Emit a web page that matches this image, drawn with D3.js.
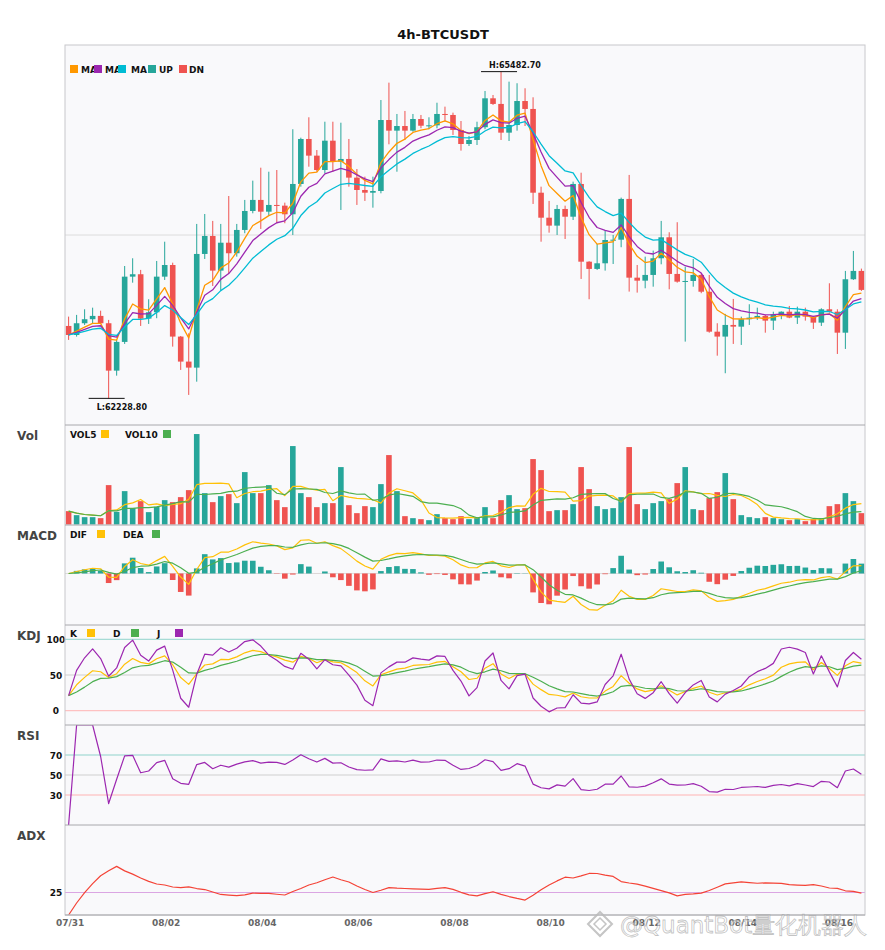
<!DOCTYPE html>
<meta charset="utf-8">
<script src="https://d3js.org/d3.v7.min.js"></script>
<style>
body { margin: 0; background: #fff; }
text { font-family: "DejaVu Sans", sans-serif; }
</style>
<body></body>
<script>
// 4h candles, 07/31 00:00 onwards
var opens = [62950,62860,62977,63017,63050,62977,62505,62791,63441,63465,63023,63086,63441,63557,62844,62595,62535,63667,63846,63501,
  63779,63674,63906,64095,64205,64088,64155,64148,64062,64364,64812,64646,64503,64795,64586,64613,64427,64304,64277,64294,
  65001,64895,64941,64895,65011,64944,64948,65061,65051,64902,64762,64802,64929,65217,65161,64875,64951,65190,65111,64277,
  64028,63949,64115,64038,64364,63590,63518,63574,63806,63809,64215,63431,63401,63458,63624,63833,63468,63391,63398,63458,
  63291,62893,62844,62960,62943,63017,63033,63050,63003,63067,63092,63033,63092,63043,62983,63116,63092,62883,63415,63498];
var highs = [63043,63060,63116,63132,63102,63010,62811,63547,63624,63508,63216,63597,63789,63580,62850,62877,63966,64065,63996,63966,
  64244,63966,64205,64397,64526,64486,64503,64178,64909,64825,65028,64702,64984,64984,64974,64812,64513,64437,64437,65200,
  65373,65061,65091,65061,65051,65028,65173,65134,65074,64991,64842,64984,65290,65250,65482.7,65383,65367,65317,65227,64337,
  64195,64155,64148,64387,64476,63595,63766,63899,63856,64228,64454,63557,63640,63700,63996,63883,63983,63540,63617,63475,
  63458,62977,63070,63219,63043,63166,63132,63060,63092,63095,63149,63142,63132,63050,63126,63375,63116,63498,63697,63521];
var lows = [62811,62844,62960,62970,62972,62228.8,62455,62771,63381,62950,62970,63027,63408,62744,62512,62263,62395,63617,63348,63302,
  63475,63640,63873,64072,63916,64048,63973,63973,63856,64337,64536,64486,64470,64486,64105,64337,64155,64195,64128,64271,
  64759,64486,64802,64885,64919,64909,64919,64984,64852,64696,64742,64752,64909,65151,64802,64792,64895,64941,64165,63789,
  63879,63856,63816,64005,63418,63216,63508,63501,63567,63734,63292,63282,63325,63341,63564,63315,63381,62794,63341,63276,
  62883,62654,62479,62771,62761,62960,63010,62883,62910,63017,63027,62970,63003,62920,62950,63082,62671,62721,63408,63299];
var closes = [62860,62977,63017,63050,62977,62505,62791,63441,63465,63023,63086,63441,63557,62844,62595,62535,63667,63846,63501,63779,
  63674,63906,64095,64205,64088,64155,64148,64062,64364,64812,64646,64503,64795,64586,64613,64427,64304,64277,64294,65001,
  64895,64941,64895,65011,64944,64948,65061,65051,64902,64762,64802,64929,65217,65161,64875,64951,65190,65111,64277,64028,
  63949,64115,64038,64364,63590,63518,63574,63806,63809,64215,63431,63401,63458,63624,63833,63468,63391,63398,63458,63291,
  62893,62844,62960,62943,63017,63033,63050,63003,63067,63092,63033,63092,63043,62983,63116,63092,62883,63415,63498,63309];
var volumes = [400,280,220,220,190,1180,380,1000,490,700,370,530,730,670,820,1030,2710,940,670,850,
  910,640,1570,940,940,1180,730,520,2350,940,820,520,640,640,1720,580,340,550,520,1210,
  2080,1000,250,190,160,130,310,190,160,250,160,220,520,190,730,880,460,490,1960,1630,
  400,430,430,610,1720,1060,550,460,490,820,2320,610,460,640,700,760,1240,1720,460,430,
  790,970,1540,760,280,220,190,220,190,160,130,160,100,160,190,550,610,940,700,340];
var tickLabels = ["07/31","08/02","08/04","08/06","08/08","08/10","08/12","08/14","08/16"];
var maPeriods = [5, 8, 13];
var macdParams = [6, 13, 5];

var UP = "#26a69a", DN = "#ef5350";
var left = 65, right = 865;
var n = closes.length;

// ---------- indicators ----------
function ema(arr, p) {
  var a = 2 / (p + 1), prev, out = [];
  arr.forEach(function(v, i) { prev = (i == 0) ? v : prev + a * (v - prev); out.push(prev); });
  return out;
}
function sma(arr, p) {
  return arr.map(function(v, i) {
    return d3.mean(arr.slice(Math.max(0, i - p + 1), i + 1));
  });
}
var mas = maPeriods.map(function(p) { return ema(closes, p); });
var vol5 = sma(volumes, 5), vol10 = sma(volumes, 10);

var eFast = ema(closes, macdParams[0]), eSlow = ema(closes, macdParams[1]);
var dif = eFast.map(function(v, i) { return v - eSlow[i]; });
var dea = ema(dif, macdParams[2]);
var hist = dif.map(function(v, i) { return 2 * (v - dea[i]); });

var kArr = [], dArr = [], jArr = [];
var k, dd;
for (var i = 0; i < n; i++) {
  var lo = d3.min(lows.slice(Math.max(0, i - 8), i + 1));
  var hi = d3.max(highs.slice(Math.max(0, i - 8), i + 1));
  var rsv = hi == lo ? 50 : (closes[i] - lo) / (hi - lo) * 100;
  if (i == 0) { k = rsv; dd = rsv; }
  else { k = 2 / 3 * k + rsv / 3; dd = 2 / 3 * dd + k / 3; }
  kArr.push(k); dArr.push(dd); jArr.push(3 * k - 2 * dd);
}

var rsi = [], g = 0, l = 0;
for (var i = 0; i < n; i++) {
  if (i > 0) {
    var ch = closes[i] - closes[i - 1];
    g = g + (Math.max(ch, 0) - g) / 14;
    l = l + (Math.max(-ch, 0) - l) / 14;
  }
  rsi.push(g + l == 0 ? 0 : 100 * g / (g + l));
}

var adx = [], pS = 0, mS = 0, ax = 0, al = 2 / 15;
for (var i = 0; i < n; i++) {
  var pdm = 0, mdm = 0;
  if (i > 0) {
    var upM = highs[i] - highs[i - 1], dnM = lows[i - 1] - lows[i];
    pdm = (upM > dnM && upM > 0) ? upM : 0;
    mdm = (dnM > upM && dnM > 0) ? dnM : 0;
  }
  pS = pS + al * (pdm - pS);
  mS = mS + al * (mdm - mS);
  var dx = (pS + mS) == 0 ? 0 : 100 * Math.abs(pS - mS) / (pS + mS);
  ax = i == 0 ? dx : ax + al * (dx - ax);
  adx.push(ax);
}

// ---------- svg ----------
var svg = d3.select("body").append("svg")
    .attr("width", 885)
    .attr("height", 950);

var x = d3.scaleBand().domain(d3.range(n)).range([left, right]).paddingInner(0.3).paddingOuter(0.1);
var cx = function(i) { return x(i) + x.bandwidth() / 2; };

svg.append("rect").attr("x", left).attr("y", 45).attr("width", right - left).attr("height", 870)
    .attr("fill", "#f9f9fb");

svg.append("text").text("4h-BTCUSDT")
    .attr("x", 443).attr("y", 39)
    .attr("text-anchor", "middle")
    .attr("font-weight", "bold").attr("font-size", "13px").attr("fill", "#111");

var panels = [
  {name: "price", top: 45, bottom: 425},
  {name: "Vol", top: 425, bottom: 525},
  {name: "MACD", top: 525, bottom: 625},
  {name: "KDJ", top: 625, bottom: 725},
  {name: "RSI", top: 725, bottom: 825},
  {name: "ADX", top: 825, bottom: 915}
];
var defs = svg.append("defs");
panels.forEach(function(p) {
  defs.append("clipPath").attr("id", "clip-" + p.name)
    .append("rect").attr("x", left).attr("y", p.top).attr("width", right - left).attr("height", p.bottom - p.top);
  if (p.name != "price") {
    svg.append("text").text(p.name)
      .attr("x", 17).attr("y", p.top + 15)
      .attr("font-weight", "bold").attr("font-size", "12px").attr("fill", "#444");
  }
});

function hline(yv, color) {
  svg.append("line").attr("x1", left).attr("x2", right).attr("y1", yv).attr("y2", yv)
    .attr("stroke", color).attr("stroke-width", 1);
}
function tickText(t, yv) {
  svg.append("text").text(t).attr("x", 56).attr("y", yv + 3.5)
    .attr("text-anchor", "middle").attr("font-weight", "bold").attr("font-size", "9px").attr("fill", "#111");
}
function legend(items, yTop) {
  items.forEach(function(it) {
    if (it.sq !== undefined) {
      svg.append("rect").attr("x", it.sq).attr("y", yTop).attr("width", 8).attr("height", 8).attr("fill", it.color);
    }
    if (it.label) {
      svg.append("text").text(it.label).attr("x", it.tx).attr("y", yTop + 7.5)
        .attr("font-weight", "bold").attr("font-size", "9px").attr("fill", "#111");
    }
  });
}
function drawLine(data, yScale, color, clipName, w) {
  svg.append("path").datum(data)
    .attr("clip-path", "url(#clip-" + clipName + ")")
    .attr("fill", "none").attr("stroke", color).attr("stroke-width", w || 1.3)
    .attr("stroke-linejoin", "round")
    .attr("d", d3.line().x(function(d, i) { return cx(i); }).y(function(d) { return yScale(d); }));
}

// ---------- price ----------
var minL = d3.min(lows), maxH = d3.max(highs);
var pad = (maxH - minL) * 0.0815;
var y = d3.scaleLinear().domain([minL - pad, maxH + pad]).range([425, 45]);
hline(235, "#dcdcdc");

var candle = svg.append("g").attr("clip-path", "url(#clip-price)")
  .selectAll("g").data(d3.range(n)).enter().append("g");
candle.append("line")
  .attr("x1", cx).attr("x2", cx)
  .attr("y1", function(i) { return y(highs[i]); })
  .attr("y2", function(i) { return y(lows[i]); })
  .attr("stroke", function(i) { return closes[i] >= opens[i] ? UP : DN; })
  .attr("stroke-width", 1);
candle.append("rect")
  .attr("x", function(i) { return x(i); })
  .attr("width", x.bandwidth())
  .attr("y", function(i) { return y(Math.max(opens[i], closes[i])); })
  .attr("height", function(i) { return Math.max(1, Math.abs(y(opens[i]) - y(closes[i]))); })
  .attr("fill", function(i) { return closes[i] >= opens[i] ? UP : DN; });

var maColors = ["#ff9800", "#9c27b0", "#00bcd4"];
mas.forEach(function(m, j) { drawLine(m, y, maColors[j], "price", 1.3); });

var hiIdx = d3.maxIndex(highs), loIdx = d3.minIndex(lows);
svg.append("line").attr("x1", cx(hiIdx) - 20).attr("x2", cx(hiIdx) + 16)
  .attr("y1", y(maxH)).attr("y2", y(maxH)).attr("stroke", "#111").attr("stroke-width", 1);
svg.append("text").text("H:" + maxH.toFixed(2)).attr("x", cx(hiIdx) - 12).attr("y", y(maxH) - 4)
  .attr("font-weight", "bold").attr("font-size", "8px").attr("fill", "#111");
svg.append("line").attr("x1", cx(loIdx) - 20).attr("x2", cx(loIdx) + 16)
  .attr("y1", y(minL)).attr("y2", y(minL)).attr("stroke", "#111").attr("stroke-width", 1);
svg.append("text").text("L:" + minL.toFixed(2)).attr("x", cx(loIdx) - 12).attr("y", y(minL) + 12)
  .attr("font-weight", "bold").attr("font-size", "8px").attr("fill", "#111");

legend([
  {sq: 70, color: maColors[0], tx: 81, label: "MA"},
  {sq: 94, color: maColors[1], tx: 105, label: "MA"},
  {sq: 118, color: maColors[2], tx: 131, label: "MA"},
  {sq: 148, color: UP, tx: 159, label: "UP"},
  {sq: 179, color: DN, tx: 189, label: "DN"}
], 65);

// ---------- volume ----------
var yv = d3.scaleLinear().domain([0, d3.max(volumes) * 1.1]).range([524.5, 425]);
svg.append("g").selectAll("rect").data(volumes).enter().append("rect")
  .attr("x", function(d, i) { return x(i); })
  .attr("width", x.bandwidth())
  .attr("y", function(d) { return yv(d); })
  .attr("height", function(d) { return yv(0) - yv(d); })
  .attr("fill", function(d, i) { return closes[i] >= opens[i] ? UP : DN; });
drawLine(vol5, yv, "#ffc107", "Vol", 1.2);
drawLine(vol10, yv, "#4caf50", "Vol", 1.2);
legend([
  {tx: 70, label: "VOL5"}, {sq: 101, color: "#ffc107"},
  {tx: 125, label: "VOL10"}, {sq: 163, color: "#4caf50"}
], 430);

// ---------- MACD ----------
var mAll = dif.concat(dea, hist);
var mLo = d3.min(mAll), mHi = d3.max(mAll), mPad = (mHi - mLo) * 0.21;
var ym = d3.scaleLinear().domain([mLo - mPad, mHi + mPad]).range([625, 525]);
hline(ym(0), "#dcdcdc");
svg.append("g").selectAll("rect").data(hist).enter().append("rect")
  .attr("x", function(d, i) { return x(i); })
  .attr("width", x.bandwidth())
  .attr("y", function(d) { return Math.min(ym(d), ym(0)); })
  .attr("height", function(d) { return Math.abs(ym(d) - ym(0)); })
  .attr("fill", function(d) { return d >= 0 ? UP : DN; });
drawLine(dif, ym, "#ffc107", "MACD", 1.2);
drawLine(dea, ym, "#4caf50", "MACD", 1.2);
legend([
  {tx: 70, label: "DIF"}, {sq: 97, color: "#ffc107"},
  {tx: 123, label: "DEA"}, {sq: 152, color: "#4caf50"}
], 530);

// ---------- KDJ ----------
var yk = d3.scaleLinear().domain([-20, 120]).range([725, 625]);
hline(yk(100), "#8fd3cb"); hline(yk(50), "#cfcfcf"); hline(yk(0), "#ffb3b3");
tickText("100", yk(100)); tickText("50", yk(50)); tickText("0", yk(0));
drawLine(kArr, yk, "#ffc107", "KDJ", 1.2);
drawLine(dArr, yk, "#4caf50", "KDJ", 1.2);
drawLine(jArr, yk, "#9c27b0", "KDJ", 1.2);
legend([
  {tx: 70, label: "K"}, {sq: 87, color: "#ffc107"},
  {tx: 113, label: "D"}, {sq: 131, color: "#4caf50"},
  {tx: 157, label: "J"}, {sq: 175, color: "#9c27b0"}
], 629);

// ---------- RSI ----------
var yr = d3.scaleLinear().domain([0, 100]).range([825, 725]);
hline(yr(70), "#8fd3cb"); hline(yr(50), "#cfcfcf"); hline(yr(30), "#ffb3b3");
tickText("70", yr(70)); tickText("50", yr(50)); tickText("30", yr(30));
drawLine(rsi, yr, "#9c27b0", "RSI", 1.2);

// ---------- ADX ----------
var ya = d3.scaleLinear().domain([0, 100]).range([915, 825]);
hline(ya(25), "#dba6e3");
tickText("25", ya(25));
drawLine(adx, ya, "#f44336", "ADX", 1.2);

// ---------- frame ----------
svg.append("rect").attr("x", left).attr("y", 45).attr("width", right - left).attr("height", 870)
  .attr("fill", "none").attr("stroke", "#c8c8cc");
[425, 525, 625, 725, 825, 915].forEach(function(yy) { hline(yy, "#a8a8ac"); });

// x axis labels
tickLabels.forEach(function(t, j) {
  svg.append("text").text(t).attr("x", cx(j * 12) + 1.5).attr("y", 926)
    .attr("text-anchor", "middle").attr("font-weight", "bold").attr("font-size", "9px").attr("fill", "#666");
});

// watermark
var wm = svg.append("g").attr("opacity", 0.85);
wm.append("path").attr("d", "M600,912 L612,924 L600,936 L588,924 Z")
  .attr("fill", "none").attr("stroke", "#bbb").attr("stroke-width", 2);
wm.append("path").attr("d", "M600,918 L606,924 L600,930 L594,924 Z")
  .attr("fill", "none").attr("stroke", "#bbb").attr("stroke-width", 1.5);
wm.append("text").text("@QuantBot量化机器人")
  .attr("x", 620).attr("y", 933)
  .attr("font-family", "'Noto Sans CJK SC', 'Noto Sans', sans-serif")
  .attr("font-size", "23px")
  .attr("fill", "#fff").attr("fill-opacity", 0.6)
  .attr("stroke", "#9a9a9a").attr("stroke-width", 0.8).attr("stroke-opacity", 0.7);
</script>
